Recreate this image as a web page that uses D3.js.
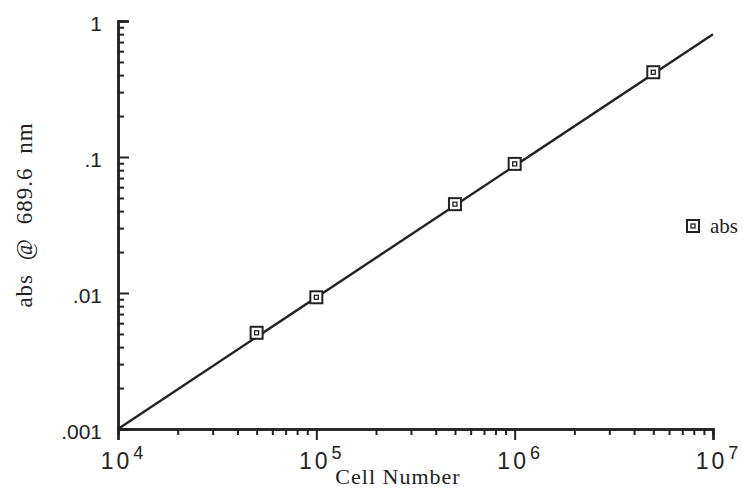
<!DOCTYPE html>
<html>
<head>
<meta charset="utf-8">
<script src="https://cdn.jsdelivr.net/npm/d3@7"></script>
<style>
  body { margin: 0; background: #fff; }
  svg { display: block; }
</style>
</head>
<body>
<div id="root"></div>
<script>
// data
const cellNumber = [5e4, 1e5, 5e5, 1e6, 5e6];
const absValues = [0.0051, 0.0093, 0.045, 0.089, 0.42];
const fitX = [1e4, 1e7];
const fitY = [0.001, 0.80];
const yTickValues = [1, 0.1, 0.01, 0.001];
const yTickLabels = ['1', '.1', '.01', '.001'];
const xTickValues = [1e4, 1e5, 1e6, 1e7];
const xTickExps = ['4', '5', '6', '7'];
const seriesName = 'abs';

const width = 743, height = 489;
const padLeft = 118, padRight = 713, padTop = 21, padBottom = 429;
const ink = '#222';

const svg = d3.select('#root').append('svg')
    .attr('width', width)
    .attr('height', height);

const x = d3.scaleLog().domain([1e4, 1e7]).range([padLeft, padRight]);
const y = d3.scaleLog().domain([0.001, 1]).range([padBottom, padTop]);

// minor ticks 2..9 in each decade
const minorX = [];
for (let e = 4; e < 7; e++) for (let m = 2; m <= 9; m++) minorX.push(m * Math.pow(10, e));
const minorY = [];
for (let e = -3; e < 0; e++) for (let m = 2; m <= 9; m++) minorY.push(m * Math.pow(10, e));

// X axis
const xAxis = svg.append('g').attr('transform', `translate(0,${padBottom})`);
xAxis.call(d3.axisBottom(x).tickValues(minorX).tickSize(6).tickFormat(''));
xAxis.append('g').call(d3.axisBottom(x).tickValues(xTickValues).tickSize(11).tickFormat(''));
xAxis.selectAll('.domain').attr('stroke', ink).attr('stroke-width', 2.5);
xAxis.selectAll('.tick line').attr('stroke', ink).attr('stroke-width', 2);

// x tick labels: 10 with superscript
const xLab = svg.append('g');
xTickValues.forEach((v, i) => {
  const t = xLab.append('text')
      .attr('x', x(v) + 4)
      .attr('y', 469)
      .attr('text-anchor', 'middle')
      .attr('font-family', 'Liberation Sans, Arial, sans-serif')
      .attr('fill', ink);
  t.append('tspan').attr('font-size', 23).attr('letter-spacing', 3).text('10');
  t.append('tspan').attr('dy', -10).attr('dx', 1).attr('font-size', 18).text(xTickExps[i]);
});

// Y axis, ticks point inward
const yAxis = svg.append('g').attr('transform', `translate(${padLeft},0)`);
yAxis.call(d3.axisRight(y).tickValues(minorY).tickSize(6).tickFormat(''));
yAxis.append('g').call(d3.axisRight(y).tickValues(yTickValues).tickSize(11).tickFormat(''));
yAxis.selectAll('.domain').attr('stroke', ink).attr('stroke-width', 2.5);
yAxis.selectAll('.tick line').attr('stroke', ink).attr('stroke-width', 2);

svg.append('g').selectAll('text')
  .data(yTickValues)
  .join('text')
    .attr('x', 102)
    .attr('y', d => y(d) + 10)
    .attr('text-anchor', 'end')
    .attr('font-family', 'Liberation Sans, Arial, sans-serif')
    .attr('font-size', 21)
    .attr('fill', ink)
    .text((d, i) => yTickLabels[i]);

// Axis titles
svg.append('text')
    .attr('x', 398)
    .attr('y', 484)
    .attr('text-anchor', 'middle')
    .attr('font-family', 'Liberation Serif, Times New Roman, serif')
    .attr('font-size', 22)
    .attr('letter-spacing', 1)
    .attr('fill', ink)
    .text('Cell Number');

svg.append('text')
    .attr('transform', `translate(32, 215) rotate(-90)`)
    .attr('text-anchor', 'middle')
    .attr('font-family', 'Liberation Serif, Times New Roman, serif')
    .attr('font-size', 23)
    .attr('letter-spacing', 1)
    .attr('word-spacing', 7)
    .attr('fill', ink)
    .text('abs @ 689.6 nm');

// Fit line
svg.append('path')
    .datum(fitX.map((v, i) => [v, fitY[i]]))
    .attr('d', d3.line().x(d => x(d[0])).y(d => y(d[1])))
    .attr('fill', 'none')
    .attr('stroke', ink)
    .attr('stroke-width', 2.4);

// Markers
const marker = (g) => {
  g.append('rect').attr('x', -6).attr('y', -6).attr('width', 12).attr('height', 12)
    .attr('fill', '#fff').attr('stroke', ink).attr('stroke-width', 2);
  g.append('rect').attr('x', -2).attr('y', -2).attr('width', 4).attr('height', 4)
    .attr('fill', 'none').attr('stroke', ink).attr('stroke-width', 1.3);
};

svg.append('g').selectAll('g')
  .data(cellNumber.map((v, i) => [v, absValues[i]]))
  .join('g')
    .attr('transform', d => `translate(${x(d[0])},${y(d[1])})`)
    .each(function () { marker(d3.select(this)); });

// Legend
const legend = svg.append('g').attr('transform', 'translate(693,226)');
marker(legend);
legend.append('text')
    .attr('x', 17)
    .attr('y', 7)
    .attr('font-family', 'Liberation Serif, Times New Roman, serif')
    .attr('font-size', 21)
    .attr('fill', ink)
    .text(seriesName);
</script>
</body>
</html>
